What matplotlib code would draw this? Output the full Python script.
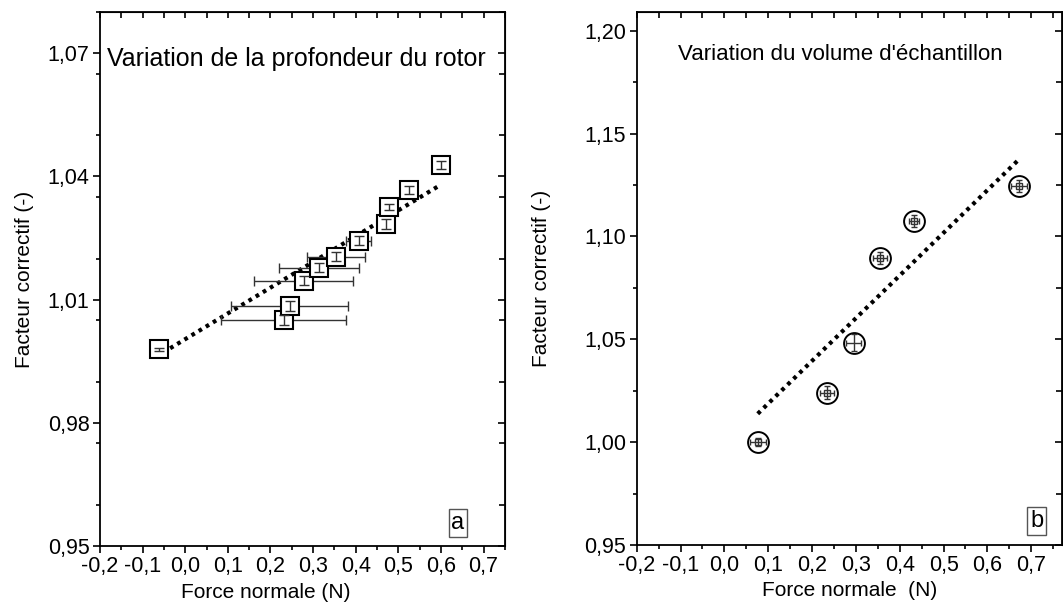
import numpy as np
import matplotlib
matplotlib.use("Agg")
import matplotlib.pyplot as plt
from matplotlib.ticker import FuncFormatter, MultipleLocator

plt.rcParams['font.family'] = ['Liberation Sans', 'DejaVu Sans']

# --- panneau a : variation de la profondeur du rotor
a_x = [-0.062, 0.231, 0.245, 0.278, 0.313, 0.353, 0.407, 0.472, 0.477, 0.526, 0.599]
a_y = [0.9979, 1.0051, 1.0085, 1.0146, 1.0178, 1.0204, 1.0243, 1.0285, 1.0326, 1.0367, 1.0428]
a_xerr = [0.004, 0.146, 0.137, 0.116, 0.094, 0.068, 0.030, 0.006, 0.010, 0.012, 0.012]
a_yerr = [0.0004, 0.0012, 0.0012, 0.0011, 0.0011, 0.0011, 0.0011, 0.0012, 0.0008, 0.0009, 0.0010]
a_fit_x = [-0.052, 0.60]
a_fit_y = [0.9971, 1.0380]

# --- panneau b : variation du volume d'échantillon
b_x = [0.076, 0.234, 0.295, 0.355, 0.432, 0.672]
b_y = [1.000, 1.0241, 1.0484, 1.0894, 1.1075, 1.1245]
b_xerr = [0.018, 0.015, 0.017, 0.015, 0.012, 0.018]
b_yerr = [0.002, 0.003, 0.004, 0.003, 0.003, 0.003]
b_inner = [True, True, False, True, True, True]   # petit carré au centre
b_fit_x = [0.076, 0.668]
b_fit_y = [1.0138, 1.1366]

X_TICKS = [-0.2, -0.1, 0.0, 0.1, 0.2, 0.3, 0.4, 0.5, 0.6, 0.7]


def virgule(nd):
    return FuncFormatter(lambda v, p: f"{v:.{nd}f}".replace('.', ','))


def style_axes(ax, xlim, ylim, yticks, ydec, yminor, xlabel, ypad):
    ax.set_xlim(*xlim)
    ax.set_ylim(*ylim)
    ax.set_xticks(X_TICKS)
    ax.set_yticks(yticks)
    ax.xaxis.set_minor_locator(MultipleLocator(0.05))
    ax.yaxis.set_minor_locator(MultipleLocator(yminor))
    ax.xaxis.set_major_formatter(virgule(1))
    ax.yaxis.set_major_formatter(virgule(ydec))
    ax.tick_params(which='major', direction='out', length=5, width=1.2, labelsize=15.5, pad=2.5)
    ax.tick_params(which='minor', direction='out', length=3, width=1.2)
    for s in ax.spines.values():
        s.set_linewidth(1.3)

    # graduations internes en haut et à droite
    top = ax.secondary_xaxis('top')
    top.set_xticks(X_TICKS)
    top.xaxis.set_minor_locator(MultipleLocator(0.05))
    top.tick_params(which='both', direction='in', length=4, width=1.2, labeltop=False)
    right = ax.secondary_yaxis('right')
    right.set_yticks(yticks)
    right.yaxis.set_minor_locator(MultipleLocator(yminor))
    right.tick_params(which='major', direction='in', length=5, width=1.2, labelright=False)
    right.tick_params(which='minor', direction='in', length=4, width=1.2, labelright=False)

    ax.set_xlabel(xlabel, fontsize=15, labelpad=3)
    ax.set_ylabel("Facteur correctif (-)", fontsize=15, labelpad=ypad)


fig = plt.figure(figsize=(10.63, 6.07), dpi=100)
ax1 = fig.add_axes([0.094, 0.1005, 0.381, 0.8795])
ax2 = fig.add_axes([0.599, 0.1021, 0.400, 0.8779])

# panneau a
ax1.plot(a_fit_x, a_fit_y, color='black', lw=3, linestyle=(0, (0.9, 1.1)), zorder=2)
ax1.errorbar(a_x, a_y, xerr=a_xerr, fmt='none', ecolor='#333333', elinewidth=1,
             capsize=3.5, capthick=1, zorder=3)
ax1.plot(a_x, a_y, 's', ms=13, mfc='white', mec='black', mew=1.5, zorder=4)
ax1.errorbar(a_x, a_y, yerr=a_yerr, fmt='none', ecolor='#333333', elinewidth=1,
             capsize=3.5, capthick=1, zorder=5)
style_axes(ax1, (-0.2, 0.75), (0.95, 1.08), [0.95, 0.98, 1.01, 1.04, 1.07], 2, 0.015,
           "Force normale (N)", 10)
ax1.xaxis.set_label_coords(0.41, -0.07)
ax1.text(0.017, 0.912, "Variation de la profondeur du rotor", transform=ax1.transAxes,
         fontsize=18, ha='left', va='center')
ax1.text(0.884, 0.043, "a", transform=ax1.transAxes, fontsize=17, ha='center', va='center',
         bbox=dict(boxstyle='square,pad=0.12', fc='white', ec='#555555', lw=1))

# panneau b
ax2.plot(b_fit_x, b_fit_y, color='black', lw=3, linestyle=(0, (0.9, 1.1)), zorder=2)
ax2.plot(b_x, b_y, 'o', ms=15, mfc='white', mec='black', mew=1.4, zorder=3)
ax2.errorbar(b_x, b_y, xerr=b_xerr, yerr=b_yerr, fmt='none', ecolor='#333333',
             elinewidth=1, capsize=2.5, capthick=1, zorder=4)
bx_in = [x for x, k in zip(b_x, b_inner) if k]
by_in = [y for y, k in zip(b_y, b_inner) if k]
ax2.plot(bx_in, by_in, 's', ms=5, mfc='none', mec='#333333', mew=1, zorder=5)
style_axes(ax2, (-0.2, 0.77), (0.95, 1.209), [0.95, 1.00, 1.05, 1.10, 1.15, 1.20], 2, 0.025,
           "Force normale  (N)", 24)
ax2.text(0.097, 0.921, "Variation du volume d'échantillon", transform=ax2.transAxes,
         fontsize=16, ha='left', va='center')
ax2.text(0.941, 0.045, "b", transform=ax2.transAxes, fontsize=17, ha='center', va='center',
         bbox=dict(boxstyle='square,pad=0.12', fc='white', ec='#555555', lw=1))

fig.savefig("out.png", dpi=100)
